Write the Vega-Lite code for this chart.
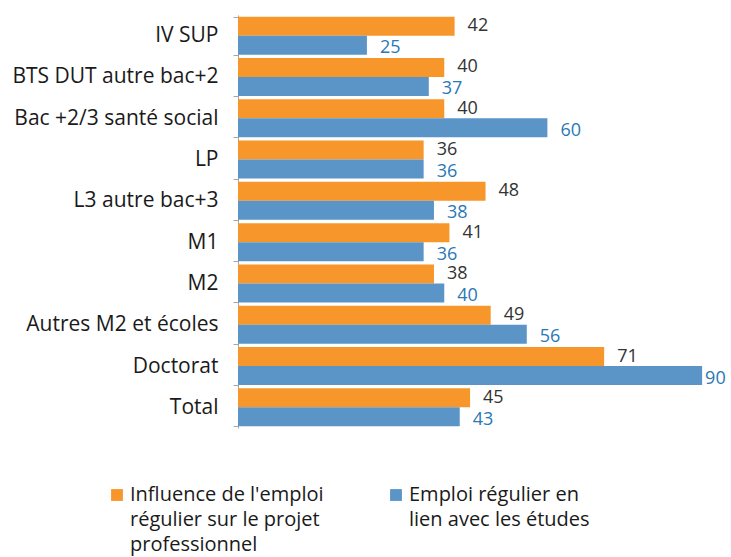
{
  "$schema": "https://vega.github.io/schema/vega-lite/v6.json",
  "width": 493,
  "height": 413,
  "autosize": {"type": "none"},
  "padding": {"left": 238, "top": 15, "right": 0, "bottom": 129},
  "background": "white",
  "config": {"view": {"stroke": null}, "font": "Open Sans"},
  "data": {
    "values": [
      {"cat": "IV SUP", "series": "Influence de l'emploi|régulier sur le projet|professionnel", "value": 42},
      {"cat": "IV SUP", "series": "Emploi régulier en|lien avec les études|", "value": 25},
      {"cat": "BTS DUT autre bac+2", "series": "Influence de l'emploi|régulier sur le projet|professionnel", "value": 40},
      {"cat": "BTS DUT autre bac+2", "series": "Emploi régulier en|lien avec les études|", "value": 37},
      {"cat": "Bac +2/3 santé social", "series": "Influence de l'emploi|régulier sur le projet|professionnel", "value": 40},
      {"cat": "Bac +2/3 santé social", "series": "Emploi régulier en|lien avec les études|", "value": 60},
      {"cat": "LP", "series": "Influence de l'emploi|régulier sur le projet|professionnel", "value": 36},
      {"cat": "LP", "series": "Emploi régulier en|lien avec les études|", "value": 36},
      {"cat": "L3 autre bac+3", "series": "Influence de l'emploi|régulier sur le projet|professionnel", "value": 48},
      {"cat": "L3 autre bac+3", "series": "Emploi régulier en|lien avec les études|", "value": 38},
      {"cat": "M1", "series": "Influence de l'emploi|régulier sur le projet|professionnel", "value": 41},
      {"cat": "M1", "series": "Emploi régulier en|lien avec les études|", "value": 36},
      {"cat": "M2", "series": "Influence de l'emploi|régulier sur le projet|professionnel", "value": 38},
      {"cat": "M2", "series": "Emploi régulier en|lien avec les études|", "value": 40},
      {"cat": "Autres M2 et écoles", "series": "Influence de l'emploi|régulier sur le projet|professionnel", "value": 49},
      {"cat": "Autres M2 et écoles", "series": "Emploi régulier en|lien avec les études|", "value": 56},
      {"cat": "Doctorat", "series": "Influence de l'emploi|régulier sur le projet|professionnel", "value": 71},
      {"cat": "Doctorat", "series": "Emploi régulier en|lien avec les études|", "value": 90},
      {"cat": "Total", "series": "Influence de l'emploi|régulier sur le projet|professionnel", "value": 45},
      {"cat": "Total", "series": "Emploi régulier en|lien avec les études|", "value": 43}
    ]
  },
  "encoding": {
    "y": {
      "field": "cat", "type": "nominal", "sort": null, "title": null,
      "scale": {"paddingInner": 0.08, "paddingOuter": 0.04},
      "axis": {"tickBand": "extent", "domainColor": "#a6a6a6", "tickColor": "#a6a6a6", "tickSize": 5, "labelPadding": 15, "labelFontSize": 21, "labelColor": "#1a1a1a", "labelLimit": 300}
    },
    "yOffset": {
      "field": "series", "type": "nominal",
      "scale": {"domain": ["Influence de l'emploi|régulier sur le projet|professionnel", "Emploi régulier en|lien avec les études|"]}
    },
    "x": {"field": "value", "type": "quantitative", "scale": {"domain": [0, 95.6]}, "axis": null}
  },
  "layer": [
    {
      "mark": {"type": "bar"},
      "encoding": {
        "color": {
          "field": "series", "type": "nominal",
          "scale": {"domain": ["Influence de l'emploi|régulier sur le projet|professionnel", "Emploi régulier en|lien avec les études|"], "range": ["#F7962A", "#5B95C8"]},
          "legend": {
            "orient": "none", "legendX": -131, "legendY": 470, "direction": "horizontal", "columns": 2,
            "title": null, "symbolType": "square", "symbolSize": 140, "symbolOpacity": 1, "symbolStrokeWidth": 0,
            "labelExpr": "split(datum.label, '|')", "labelFontSize": 20, "labelColor": "#1a1a1a",
            "labelLimit": 300, "columnPadding": 62, "labelOffset": 3,
            "encode": {"labels": {"update": {"lineHeight": {"value": 25}}}}
          }
        }
      }
    },
    {
      "mark": {"type": "text", "align": "left", "fontSize": 18,
        "dx": {"expr": "datum.value > 80 ? 3 : 13"},
        "dy": {"expr": "indexof(datum.series, 'Emploi') == 0 ? 3 : 0"}},
      "encoding": {
        "text": {"field": "value", "type": "quantitative"},
        "color": {
          "field": "series", "type": "nominal",
          "scale": {"domain": ["Influence de l'emploi|régulier sur le projet|professionnel", "Emploi régulier en|lien avec les études|"], "range": ["#333333", "#2A78B5"]},
          "legend": null
        }
      }
    }
  ],
  "resolve": {"scale": {"color": "independent"}}
}
